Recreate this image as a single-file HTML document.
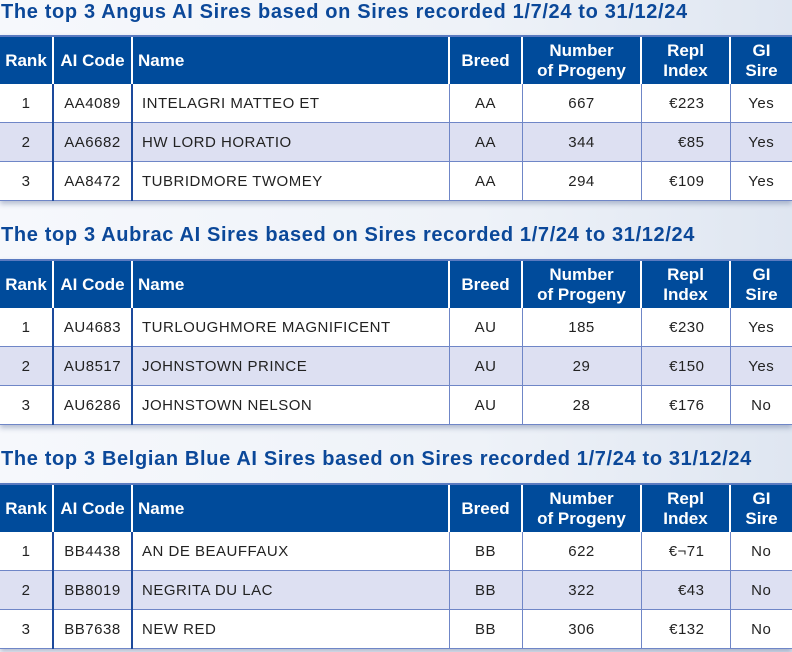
<!DOCTYPE html>
<html><head><meta charset="utf-8"><style>
body{margin:0;width:792px;height:652px;overflow:hidden;background:linear-gradient(90deg,#f6f8fc 0%,#eef2f8 60%,#dfe6f1 100%);font-family:"Liberation Sans",sans-serif;position:relative}
.title{position:absolute;left:1px;font-weight:bold;font-size:20px;color:#0b4899;white-space:nowrap;letter-spacing:0.65px}
table{position:absolute;left:0;width:792px;border-collapse:collapse;table-layout:fixed;box-shadow:0 3px 5px rgba(60,80,130,.35)}
th{background:#004b9b;color:#fff;font-size:17px;font-weight:bold;height:47px;padding:0;line-height:20px;border-left:2px solid #fff;border-top:2px solid #5a7ac0}
th:first-child{border-left:none}
td{height:38px;padding:0;font-size:15px;letter-spacing:0.5px;color:#222;text-align:center;border-left:1px solid #6f86c7;border-bottom:1px solid #6f86c7}
td:first-child{border-left:none}
td:nth-child(2),td:nth-child(3){border-left:2px solid #1d4a9c}
tr.alt td{background:#dde0f2}
tr.w td{background:#fff}
td.nm{text-align:left;padding-left:9px}
th.nm{text-align:left;padding-left:5px}
td.ri{text-align:right;padding-right:25px}
</style></head><body>
<div class="title" style="top:1px">The top 3 Angus AI Sires based on Sires recorded 1/7/24 to 31/12/24</div>
<table style="top:35px">
<colgroup><col style="width:53px"><col style="width:79px"><col style="width:317px"><col style="width:73px"><col style="width:119px"><col style="width:89px"><col style="width:62px"></colgroup>
<tr><th>Rank</th><th>AI Code</th><th class="nm">Name</th><th>Breed</th><th>Number<br>of Progeny</th><th>Repl<br>Index</th><th>GI<br>Sire</th></tr>
<tr class="w"><td>1</td><td>AA4089</td><td class="nm">INTELAGRI MATTEO ET</td><td>AA</td><td>667</td><td class="ri">€223</td><td>Yes</td></tr>
<tr class="alt"><td>2</td><td>AA6682</td><td class="nm">HW LORD HORATIO</td><td>AA</td><td>344</td><td class="ri">€85</td><td>Yes</td></tr>
<tr class="w"><td>3</td><td>AA8472</td><td class="nm">TUBRIDMORE TWOMEY</td><td>AA</td><td>294</td><td class="ri">€109</td><td>Yes</td></tr>
</table>
<div class="title" style="top:224px">The top 3 Aubrac AI Sires based on Sires recorded 1/7/24 to 31/12/24</div>
<table style="top:259px">
<colgroup><col style="width:53px"><col style="width:79px"><col style="width:317px"><col style="width:73px"><col style="width:119px"><col style="width:89px"><col style="width:62px"></colgroup>
<tr><th>Rank</th><th>AI Code</th><th class="nm">Name</th><th>Breed</th><th>Number<br>of Progeny</th><th>Repl<br>Index</th><th>GI<br>Sire</th></tr>
<tr class="w"><td>1</td><td>AU4683</td><td class="nm">TURLOUGHMORE MAGNIFICENT</td><td>AU</td><td>185</td><td class="ri">€230</td><td>Yes</td></tr>
<tr class="alt"><td>2</td><td>AU8517</td><td class="nm">JOHNSTOWN PRINCE</td><td>AU</td><td>29</td><td class="ri">€150</td><td>Yes</td></tr>
<tr class="w"><td>3</td><td>AU6286</td><td class="nm">JOHNSTOWN NELSON</td><td>AU</td><td>28</td><td class="ri">€176</td><td>No</td></tr>
</table>
<div class="title" style="top:448px">The top 3 Belgian Blue AI Sires based on Sires recorded 1/7/24 to 31/12/24</div>
<table style="top:483px">
<colgroup><col style="width:53px"><col style="width:79px"><col style="width:317px"><col style="width:73px"><col style="width:119px"><col style="width:89px"><col style="width:62px"></colgroup>
<tr><th>Rank</th><th>AI Code</th><th class="nm">Name</th><th>Breed</th><th>Number<br>of Progeny</th><th>Repl<br>Index</th><th>GI<br>Sire</th></tr>
<tr class="w"><td>1</td><td>BB4438</td><td class="nm">AN DE BEAUFFAUX</td><td>BB</td><td>622</td><td class="ri">€¬71</td><td>No</td></tr>
<tr class="alt"><td>2</td><td>BB8019</td><td class="nm">NEGRITA DU LAC</td><td>BB</td><td>322</td><td class="ri">€43</td><td>No</td></tr>
<tr class="w"><td>3</td><td>BB7638</td><td class="nm">NEW RED</td><td>BB</td><td>306</td><td class="ri">€132</td><td>No</td></tr>
</table>
</body></html>
